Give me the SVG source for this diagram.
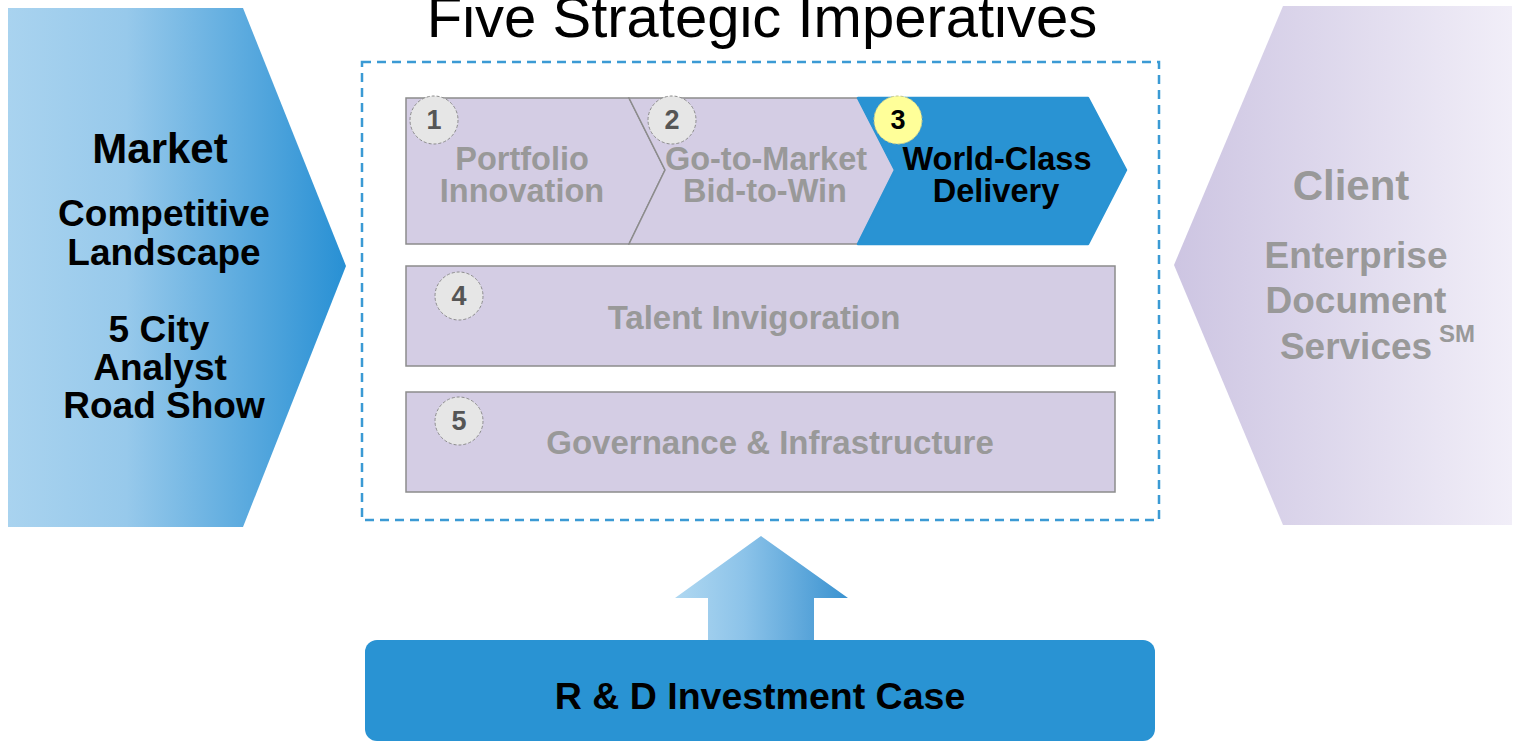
<svg xmlns="http://www.w3.org/2000/svg" width="1516" height="743" viewBox="0 0 1516 743">
<defs>
<linearGradient id="gLeft" x1="0" y1="0" x2="1" y2="0">
<stop offset="0" stop-color="#a9d3ef"/>
<stop offset="0.35" stop-color="#97c9eb"/>
<stop offset="1" stop-color="#2890d4"/>
</linearGradient>
<linearGradient id="gRight" x1="0" y1="0" x2="1" y2="0">
<stop offset="0" stop-color="#cdc5e2"/>
<stop offset="1" stop-color="#f1eef8"/>
</linearGradient>
<linearGradient id="gArrow" x1="0" y1="0" x2="1" y2="0">
<stop offset="0" stop-color="#b0d8f1"/>
<stop offset="0.4" stop-color="#8cc3e9"/>
<stop offset="1" stop-color="#3a92d0"/>
</linearGradient>
<style>
.b{font-family:"Liberation Sans",Arial,sans-serif;font-weight:bold;text-anchor:middle}
.gray{fill:#999999}
.blk{fill:#000000}
.box{fill:#d4cde4;stroke:#8c8c8c;stroke-width:1.5}
.num{fill:#e6e6e6;stroke:#8c8c8c;stroke-width:1;stroke-dasharray:3,2}
.nt{font-family:"Liberation Sans",Arial,sans-serif;font-weight:bold;text-anchor:middle;font-size:27px;fill:#555555}
</style>
</defs>
<rect width="1516" height="743" fill="#ffffff"/>

<g id="market">
<polygon points="8,8 243,8 346,266 243,527 8,527" fill="url(#gLeft)"/>
<text class="b blk" x="160" y="163" font-size="42">Market</text>
<text class="b blk" x="164" y="226" font-size="37">Competitive</text>
<text class="b blk" x="164" y="265" font-size="37">Landscape</text>
<text class="b blk" x="159" y="342" font-size="37">5 City</text>
<text class="b blk" x="160" y="380" font-size="37">Analyst</text>
<text class="b blk" x="164" y="418" font-size="37">Road Show</text>
</g>

<g id="client">
<polygon points="1283,6 1512,6 1512,525 1283,525 1174,265" fill="url(#gRight)"/>
<text class="b gray" x="1351" y="200" font-size="42">Client</text>
<text class="b gray" x="1356" y="268" font-size="37">Enterprise</text>
<text class="b gray" x="1356" y="313" font-size="37">Document</text>
<text class="b gray" x="1356" y="359" font-size="37">Services</text>
<text class="b gray" x="1457" y="342" font-size="24">SM</text>
</g>

<g id="title">
<text x="762" y="37" font-family="Liberation Sans,Arial,sans-serif" font-size="58" text-anchor="middle" fill="#000000">Five Strategic Imperatives</text>
</g>

<g id="frame">
<rect x="362" y="62" width="797" height="458" fill="none" stroke="#3b9ad4" stroke-width="2.5" stroke-dasharray="9,6"/>
</g>

<g id="imp1">
<polygon class="box" points="406,98 629,98 665,170 629,244 406,244"/>
<circle class="num" cx="434" cy="120" r="24"/>
<text class="nt" x="434" y="129">1</text>
<text class="b gray" x="522" y="170" font-size="32.5">Portfolio</text>
<text class="b gray" x="522" y="202" font-size="32.5">Innovation</text>
</g>

<g id="imp2">
<polygon class="box" points="629,98 858,98 895,170 858,244 629,244 665,170"/>
<circle class="num" cx="672" cy="120" r="24"/>
<text class="nt" x="672" y="129">2</text>
<text class="b gray" x="766" y="170" font-size="32.5">Go-to-Market</text>
<text class="b gray" x="765" y="202" font-size="32.5">Bid-to-Win</text>
</g>

<g id="imp3">
<polygon points="858,98 1088,98 1126,170 1088,244 858,244 895,170" fill="#2993d3" stroke="#2993d3" stroke-width="2.5" stroke-linejoin="round"/>
<circle cx="898" cy="120" r="24" fill="#ffff99" stroke="#c9c98a" stroke-width="1" stroke-dasharray="3,2"/>
<text class="nt" x="898" y="129" style="fill:#000">3</text>
<text class="b blk" x="997" y="170" font-size="32.5">World-Class</text>
<text class="b blk" x="996" y="202" font-size="32.5">Delivery</text>
</g>

<g id="imp4">
<rect class="box" x="406" y="266" width="709" height="100"/>
<circle class="num" cx="459" cy="296" r="24"/>
<text class="nt" x="459" y="305">4</text>
<text class="b gray" x="754" y="329" font-size="33">Talent Invigoration</text>
</g>

<g id="imp5">
<rect class="box" x="406" y="392" width="709" height="100"/>
<circle class="num" cx="459" cy="421" r="24"/>
<text class="nt" x="459" y="430">5</text>
<text class="b gray" x="770" y="454" font-size="33">Governance &amp; Infrastructure</text>
</g>

<g id="connectors">
<polygon points="761,536 848,598 814,598 814,642 708,642 708,598 675,598" fill="url(#gArrow)"/>
</g>

<g id="rd">
<rect x="365" y="640" width="790" height="101" rx="12" fill="#2993d3"/>
<text class="b blk" x="760" y="709" font-size="37.5">R &amp; D Investment Case</text>
</g>
</svg>
